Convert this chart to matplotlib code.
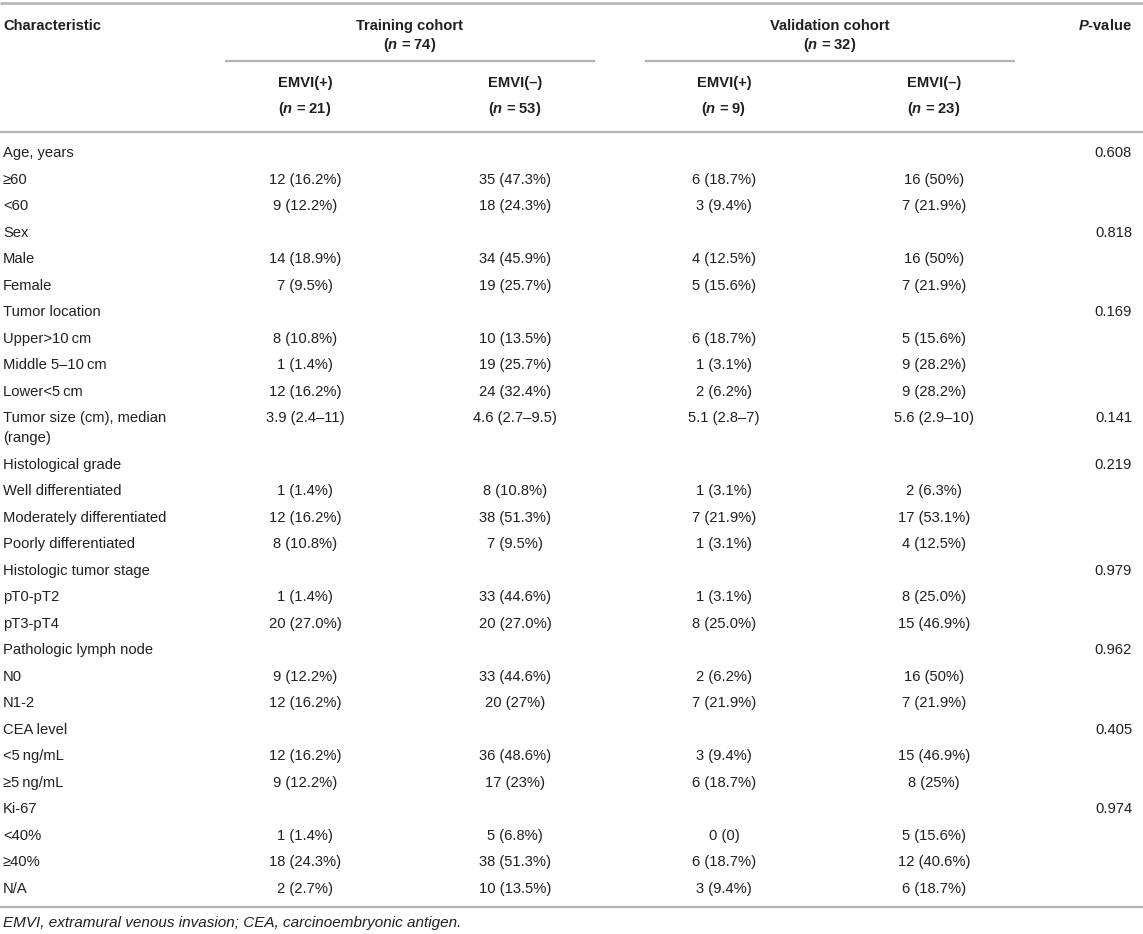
import matplotlib
matplotlib.use("Agg")
import matplotlib.pyplot as plt

plt.rcParams['font.family'] = ['Liberation Sans', 'DejaVu Sans']
plt.rcParams['mathtext.fontset'] = 'custom'
plt.rcParams['mathtext.rm'] = 'Liberation Sans'
plt.rcParams['mathtext.it'] = 'Liberation Sans:italic'
plt.rcParams['mathtext.bf'] = 'Liberation Sans:bold'
plt.rcParams['mathtext.bfit'] = 'Liberation Sans:italic:bold'

# ---------------- data ----------------
characteristics = [
    "Age, years", "\u226560", "<60",
    "Sex", "Male", "Female",
    "Tumor location", "Upper>10\u2009cm", "Middle 5\u201310\u2009cm", "Lower<5\u2009cm",
    "Tumor size (cm), median\n(range)",
    "Histological grade", "Well differentiated", "Moderately differentiated", "Poorly differentiated",
    "Histologic tumor stage", "pT0-pT2", "pT3-pT4",
    "Pathologic lymph node", "N0", "N1-2",
    "CEA level", "<5\u2009ng/mL", "\u22655\u2009ng/mL",
    "Ki-67", "<40%", "\u226540%", "N/A",
]
train_pos = ["", "12 (16.2%)", "9 (12.2%)", "", "14 (18.9%)", "7 (9.5%)", "",
             "8 (10.8%)", "1 (1.4%)", "12 (16.2%)", "3.9 (2.4\u201311)", "",
             "1 (1.4%)", "12 (16.2%)", "8 (10.8%)", "", "1 (1.4%)", "20 (27.0%)", "",
             "9 (12.2%)", "12 (16.2%)", "", "12 (16.2%)", "9 (12.2%)", "",
             "1 (1.4%)", "18 (24.3%)", "2 (2.7%)"]
train_neg = ["", "35 (47.3%)", "18 (24.3%)", "", "34 (45.9%)", "19 (25.7%)", "",
             "10 (13.5%)", "19 (25.7%)", "24 (32.4%)", "4.6 (2.7\u20139.5)", "",
             "8 (10.8%)", "38 (51.3%)", "7 (9.5%)", "", "33 (44.6%)", "20 (27.0%)", "",
             "33 (44.6%)", "20 (27%)", "", "36 (48.6%)", "17 (23%)", "",
             "5 (6.8%)", "38 (51.3%)", "10 (13.5%)"]
val_pos = ["", "6 (18.7%)", "3 (9.4%)", "", "4 (12.5%)", "5 (15.6%)", "",
           "6 (18.7%)", "1 (3.1%)", "2 (6.2%)", "5.1 (2.8\u20137)", "",
           "1 (3.1%)", "7 (21.9%)", "1 (3.1%)", "", "1 (3.1%)", "8 (25.0%)", "",
           "2 (6.2%)", "7 (21.9%)", "", "3 (9.4%)", "6 (18.7%)", "",
           "0 (0)", "6 (18.7%)", "3 (9.4%)"]
val_neg = ["", "16 (50%)", "7 (21.9%)", "", "16 (50%)", "7 (21.9%)", "",
           "5 (15.6%)", "9 (28.2%)", "9 (28.2%)", "5.6 (2.9\u201310)", "",
           "2 (6.3%)", "17 (53.1%)", "4 (12.5%)", "", "8 (25.0%)", "15 (46.9%)", "",
           "16 (50%)", "7 (21.9%)", "", "15 (46.9%)", "8 (25%)", "",
           "5 (15.6%)", "12 (40.6%)", "6 (18.7%)"]
p_values = ["0.608", "", "", "0.818", "", "", "0.169", "", "", "",
            "0.141", "0.219", "", "", "", "0.979", "", "",
            "0.962", "", "", "0.405", "", "", "0.974", "", "", ""]

cohorts = ["Training cohort", "Validation cohort"]
cohort_n = [74, 32]
groups = ["EMVI(+)", "EMVI(\u2013)", "EMVI(+)", "EMVI(\u2013)"]
group_n = [21, 53, 9, 23]
footnote = "EMVI, extramural venous invasion; CEA, carcinoembryonic antigen."

# ---------------- layout ----------------
W, H = 1143, 934
fig = plt.figure(figsize=(W / 100, H / 100), dpi=100)
ax = fig.add_axes([0, 0, 1, 1])
ax.set_xlim(0, W)
ax.set_ylim(H, 0)
ax.axis("off")

TXT = "#231f20"
RULE = "#b3b3b3"
FS = 10.6
BL = 5.2   # baseline offset below visual row centre
col_x = [305, 515, 724, 934]
cohort_span = [(225, 595), (645, 1015)]
p_x = 1132
left_x = 3

def rule(y, x0=0, x1=W, lw=1.6):
    ax.plot([x0, x1], [y, y], color=RULE, lw=lw, solid_capstyle="butt")

def put(x, y, s, ha="center", **kw):
    ax.text(x, y + BL, s, fontsize=kw.pop("fontsize", FS), color=TXT,
            ha=ha, va="baseline", **kw)

rule(3, lw=1.8)
# header
put(left_x, 25, "Characteristic", ha="left", fontweight="bold")
put(p_x, 25, r"$\mathbfit{P}$-value", ha="right", fontweight="bold")
for (x0, x1), name, n in zip(cohort_span, cohorts, cohort_n):
    cx = (x0 + x1) / 2
    put(cx, 25, name, fontweight="bold")
    put(cx, 44, r"($\mathbfit{n}$ = %d)" % n, fontweight="bold")
    rule(61, x0, x1)
for x, g, n in zip(col_x, groups, group_n):
    put(x, 82, g, fontweight="bold")
    put(x, 108, r"($\mathbfit{n}$ = %d)" % n, fontweight="bold")
rule(132)

# body
y = 152
STEP = 26.5
LINE2 = 20
for i, lab in enumerate(characteristics):
    lines = lab.split("\n")
    for k, ln in enumerate(lines):
        put(left_x, y + k * LINE2, ln, ha="left")
    for x, col in zip(col_x, [train_pos, train_neg, val_pos, val_neg]):
        if col[i]:
            put(x, y, col[i])
    if p_values[i]:
        put(p_x, y, p_values[i], ha="right")
    y += STEP + (len(lines) - 1) * LINE2

rule(907)
put(left_x, 922, footnote, ha="left", fontsize=11.0, style="italic")

fig.savefig("out.png", dpi=100)
